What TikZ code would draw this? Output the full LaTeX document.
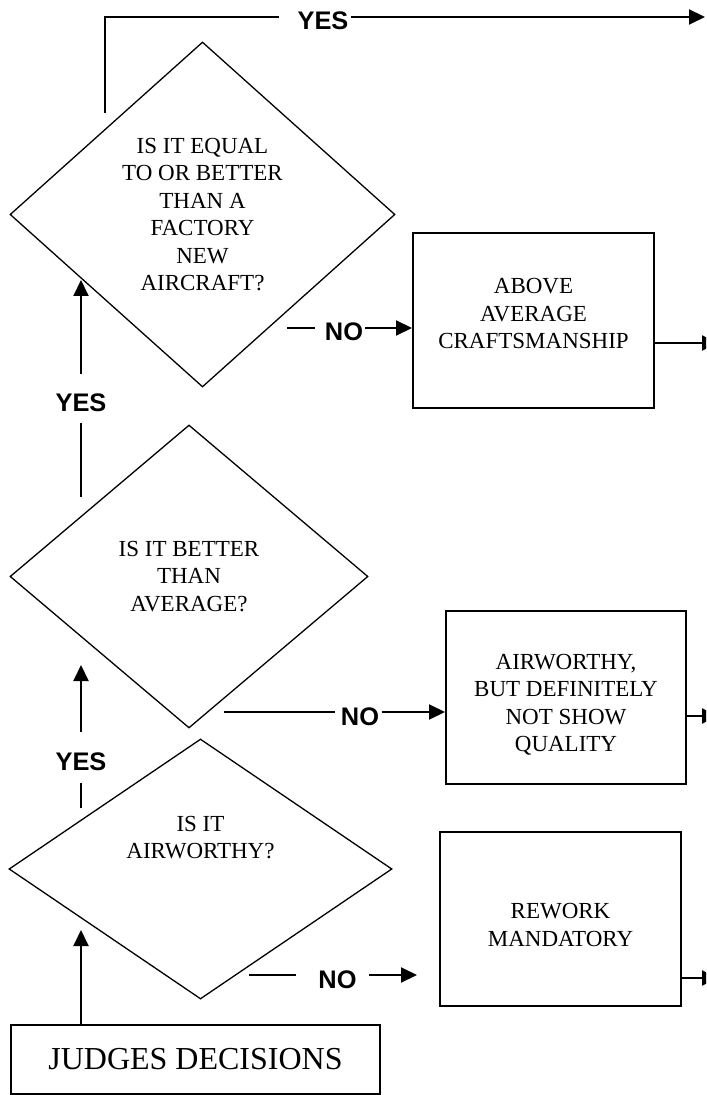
\documentclass[tikz,border=0pt]{standalone}
\usepackage{fontspec}
\setmainfont{Liberation Serif}
\newfontfamily\answersans{Liberation Sans}
\usetikzlibrary{shapes.geometric,arrows.meta}

\newcommand\qfont{\fontsize{11.5}{13.75}\selectfont}
\newcommand\ansfont{\answersans\bfseries\fontsize{12.7}{15}\selectfont}
\newcommand\startfont{\fontsize{16}{19}\selectfont}

\begin{document}
\begin{tikzpicture}
[
x=0.5pt, y=-0.5pt,
qtext/.style={font=\qfont,align=center,inner sep=0pt},
decision/.style 2 args={draw,diamond,line width=0.65pt,inner sep=0pt,label={[qtext,yshift=#1]center:{#2}}},
outcome/.style 2 args={draw,rectangle,line width=1pt,inner sep=0pt,label={[qtext,yshift=#1]center:{#2}}},
start/.style={draw,rectangle,line width=1pt,inner sep=0pt,font=\startfont},
answer/.style={font=\ansfont,inner sep=0pt},
wire/.style={line width=0.9pt},
flow/.style={line width=1pt,-{Triangle[length=8pt,width=7.5pt]}},
]
\path[use as bounding box,clip] (0,0) rectangle (706,1095);

%Place the nodes
\node[decision={0pt}{IS IT EQUAL\\TO OR BETTER\\THAN A\\FACTORY\\NEW\\AIRCRAFT?},minimum width=192.5pt,minimum height=172.5pt] (equal) at (202.5,214.5) {};
\node[decision={0pt}{IS IT BETTER\\THAN\\AVERAGE?},minimum width=179pt,minimum height=151.5pt] (better) at (189,576.5) {};
\node[decision={15.75pt}{IS IT\\AIRWORTHY?},minimum width=191.5pt,minimum height=130pt] (airworthy) at (200.5,869) {};
\node[outcome={3.25pt}{ABOVE\\AVERAGE\\CRAFTSMANSHIP},minimum width=120.5pt,minimum height=87.5pt] (above) at (533.5,320.5) {};
\node[outcome={-3.5pt}{AIRWORTHY,\\BUT DEFINITELY\\NOT SHOW\\QUALITY},minimum width=120pt,minimum height=86.5pt] (notshow) at (566,697.5) {};
\node[outcome={-3pt}{REWORK\\MANDATORY},minimum width=120.5pt,minimum height=87pt] (rework) at (560.5,919) {};
\node[start,minimum width=184.5pt,minimum height=34.5pt] (judges) at (195.5,1059.5) {JUDGES DECISIONS};

\node[answer] (yestop) at (323,21) {YES};
\node[answer] (yesbetter) at (81,403) {YES};
\node[answer] (yesair) at (81,762) {YES};
\node[answer] (noequal) at (344,332) {NO};
\node[answer] (nobetter) at (360,717) {NO};
\node[answer] (noair) at (337.5,980) {NO};

\coordinate (topfoot) at (105,113);
\coordinate (topcorner) at (105,17);
\coordinate (topend) at (705,17);
\coordinate (betterfoot) at (81,497);
\coordinate (equaltip) at (81,280);
\coordinate (airfoot) at (81,808);
\coordinate (bettertip) at (81,665);
\coordinate (airtip) at (81,930);
\coordinate (noequalfoot) at (287,328);
\coordinate (nobetterfoot) at (224,712);
\coordinate (noairfoot) at (249,975);
\coordinate (noairtip) at (417,975);
\coordinate (aboveout) at (718,343);
\coordinate (notshowout) at (718,716);
\coordinate (reworkout) at (718,978);

%Draw the connections
\draw[wire] (topfoot) -- (topcorner) -- ([xshift=-9pt]yestop.west |- topcorner);
\draw[flow] ([xshift=1pt]yestop.east |- topcorner) -- (topend);
\draw[wire] (betterfoot) -- ([yshift=-5.5pt]yesbetter.south);
\draw[flow] ([yshift=10pt]yesbetter.north) -- (equaltip);
\draw[wire] (airfoot) -- ([yshift=-6pt]yesair.south);
\draw[flow] ([yshift=10.5pt]yesair.north) -- (bettertip);
\draw[flow] (judges.north -| airtip) -- (airtip);
\draw[wire] (noequalfoot) -- ([xshift=-5pt]noequal.west |- noequalfoot);
\draw[flow] ([xshift=1pt]noequal.east |- noequalfoot) -- (above.west |- noequalfoot);
\draw[wire] (nobetterfoot) -- ([xshift=-3pt]nobetter.west |- nobetterfoot);
\draw[flow] ([xshift=1.5pt]nobetter.east |- nobetterfoot) -- (notshow.west |- nobetterfoot);
\draw[wire] (noairfoot) -- ([xshift=-11pt]noair.west |- noairfoot);
\draw[flow] ([xshift=6pt]noair.east |- noairfoot) -- (noairtip);
\draw[flow] (above.east |- aboveout) -- (aboveout);
\draw[flow] (notshow.east |- notshowout) -- (notshowout);
\draw[flow] (rework.east |- reworkout) -- (reworkout);
\end{tikzpicture}
\end{document}
